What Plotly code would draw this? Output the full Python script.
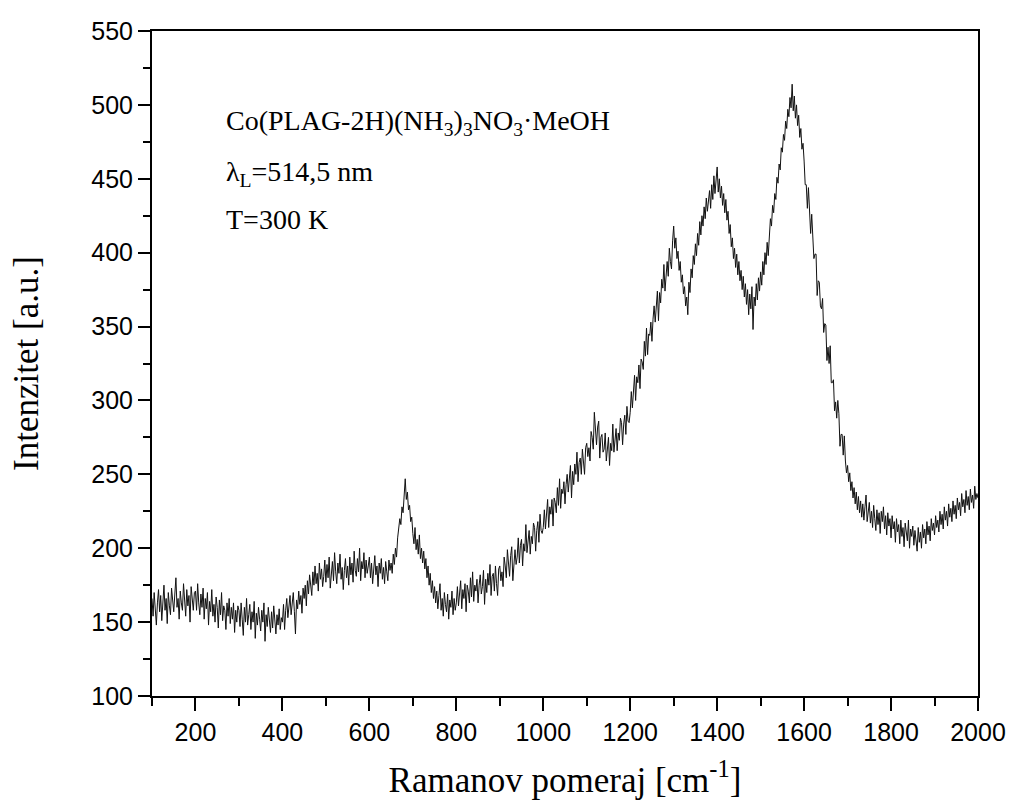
import plotly.graph_objects as go

# Raman shift axis (cm^-1): 2.5 cm^-1 step from 100 to 2000
shift_start = 100
shift_step = 2.5

# Measured intensity, 40 readings per 100 cm^-1
intensity = [
    # 100-197.5
    166, 154, 170, 159, 148, 163, 172, 157, 168, 151,
    162, 175, 158, 166, 149, 170, 161, 155, 173, 164,
    157, 169, 180, 160, 166, 152, 171, 163, 158, 176,
    165, 154, 172, 161, 168, 150, 174, 162, 158, 170,
    # 200-297.5
    171, 158, 176, 163, 155, 169, 160, 173, 152, 166,
    159, 170, 148, 164, 157, 172, 154, 162, 150, 167,
    160, 146, 165, 155, 170, 151, 161, 158, 145, 163,
    154, 166, 149, 160, 152, 163, 143, 158, 150, 161,
    # 300-397.5
    158, 147, 163, 152, 141, 160, 150, 166, 148, 155,
    162, 145, 157, 150, 164, 139, 156, 148, 160, 152,
    144, 158, 150, 163, 137, 155, 147, 160, 149, 143,
    157, 146, 161, 150, 142, 155, 148, 159, 145, 153,
    # 400-497.5
    150, 162, 145, 158, 166, 153, 160, 168, 155, 163,
    170, 157, 142, 165, 159, 171, 162, 168, 156, 173,
    166, 175, 161, 178, 169, 182, 172, 168, 184, 175,
    188, 176, 183, 171, 190, 179, 186, 174, 181, 192,
    # 500-597.5
    177, 189, 180, 194, 173, 186, 191, 178, 197, 184,
    176, 190, 183, 196, 179, 187, 172, 185, 193, 180,
    188, 175, 194, 182, 190, 177, 198, 185, 181, 193,
    184, 200, 178, 191, 186, 197, 180, 192, 183, 188,
    # 600-697.5
    194, 180, 190, 176, 185, 195, 182, 188, 174, 190,
    183, 193, 179, 187, 176, 191, 184, 178, 192, 185,
    190, 183, 196, 189, 200, 194, 207, 212, 220, 216,
    228, 224, 236, 247, 233, 238, 226, 229, 218, 221,
    # 700-797.5
    210, 203, 214, 199, 206, 196, 209, 193, 200, 190,
    198, 186, 193, 180, 188, 175, 183, 170, 178, 166,
    174, 163, 171, 159, 168, 176, 158, 166, 154, 170,
    162, 157, 169, 152, 165, 160, 171, 155, 166, 158,
    # 800-897.5
    163, 174, 161, 169, 178, 159, 172, 166, 176, 157,
    175, 171, 163, 180, 167, 184, 164, 175, 171, 179,
    163, 175, 182, 169, 174, 185, 162, 179, 170, 183,
    175, 189, 168, 181, 183, 171, 188, 176, 168, 186,
    # 900-997.5
    188, 178, 184, 174, 194, 188, 180, 199, 186, 181,
    195, 201, 178, 194, 199, 189, 194, 207, 190, 202,
    206, 188, 203, 198, 216, 197, 204, 212, 196, 208,
    203, 217, 214, 198, 212, 218, 204, 223, 212, 210,
    # 1000-1097.5
    214, 226, 213, 222, 233, 214, 228, 223, 233, 215,
    234, 231, 224, 241, 229, 247, 227, 240, 237, 245,
    230, 243, 250, 238, 245, 256, 234, 252, 243, 257,
    250, 265, 245, 258, 261, 250, 267, 257, 250, 268,
    # 1100-1197.5
    271, 262, 268, 259, 279, 275, 267, 292, 276, 270,
    282, 286, 261, 275, 277, 265, 267, 278, 259, 270,
    275, 256, 271, 266, 284, 265, 272, 281, 266, 278,
    273, 288, 285, 270, 284, 290, 277, 296, 286, 285,
    # 1200-1297.5
    292, 306, 295, 305, 317, 300, 316, 312, 324, 308,
    328, 326, 321, 340, 330, 349, 331, 345, 344, 353,
    340, 355, 364, 353, 361, 374, 354, 373, 366, 382,
    376, 392, 374, 389, 394, 384, 403, 394, 389, 408,
    # 1300-1397.5
    418, 403, 410, 396, 401, 388, 394, 380, 385, 372,
    377, 364, 370, 358, 380, 373, 389, 383, 398, 392,
    406, 398, 413, 405, 421, 412, 425, 418, 431, 423,
    437, 428, 434, 442, 430, 446, 436, 452, 440, 447,
    # 1400-1497.5
    458, 441, 450, 437, 445, 432, 440, 427, 436, 422,
    428, 413, 419, 404, 410, 396, 403, 390, 399, 385,
    394, 381, 388, 375, 384, 370, 379, 365, 375, 358,
    372, 362, 377, 348, 370, 364, 379, 368, 383, 374,
    # 1500-1597.5
    387, 378, 394, 385, 400, 392, 407, 398, 416, 423,
    418, 432, 427, 440, 436, 451, 447, 460, 456, 471,
    468, 480, 476, 489, 484, 497, 492, 505, 498, 514,
    496, 506, 491, 500, 486, 493, 478, 484, 470, 474,
    # 1600-1697.5
    462, 446, 446, 430, 444, 428, 413, 426, 407, 396,
    399, 399, 371, 381, 380, 364, 362, 369, 346, 352,
    351, 327, 336, 325, 337, 312, 312, 314, 293, 299,
    288, 300, 291, 269, 277, 277, 263, 276, 259, 251,
    # 1700-1797.5
    256, 245, 251, 239, 245, 234, 241, 230, 238, 226,
    235, 224, 232, 221, 230, 219, 228, 236, 218, 227,
    231, 217, 225, 214, 229, 220, 212, 226, 216, 224,
    210, 225, 218, 228, 213, 222, 209, 224, 215, 220,
    # 1800-1897.5
    207, 222, 213, 218, 204, 220, 211, 216, 203, 219,
    208, 214, 201, 217, 210, 205, 219, 200, 213, 208,
    215, 202, 212, 206, 198, 214, 204, 211, 200, 216,
    207, 213, 203, 218, 209, 215, 205, 220, 212, 217,
    # 1900-2000
    209, 222, 214, 219, 211, 225, 216, 223, 213, 228,
    219, 225, 215, 230, 221, 227, 218, 232, 223, 229,
    220, 234, 226, 231, 222, 237, 228, 233, 224, 239,
    229, 235, 226, 240, 231, 236, 227, 242, 233, 237,
    234,
]

raman_shift = [shift_start + shift_step * i for i in range(len(intensity))]

x_ticks = [200, 400, 600, 800, 1000, 1200, 1400, 1600, 1800, 2000]
y_ticks = [100, 150, 200, 250, 300, 350, 400, 450, 500, 550]

sample_lines = [
    "Co(PLAG-2H)(NH<sub>3</sub>)<sub>3</sub>NO<sub>3</sub>·MeOH",
    "λ<sub>L</sub>=514,5 nm",
    "T=300 K",
]

serif = "Liberation Serif, Times New Roman, serif"
sans = "Liberation Sans, Arial, sans-serif"

fig = go.Figure()
fig.add_trace(go.Scatter(
    x=raman_shift, y=intensity, mode="lines",
    line=dict(color="#111111", width=1),
    showlegend=False, hoverinfo="skip",
))

axis_common = dict(
    showline=True, linecolor="black", linewidth=2, mirror=True,
    ticks="outside", tickwidth=2, tickcolor="black",
    showgrid=False, zeroline=False, automargin=False,
    tickfont=dict(family=sans, size=25, color="black"),
)

fig.update_xaxes(
    range=[100, 2000], tickvals=x_ticks, ticklen=13,
    minor=dict(dtick=100, tick0=100, ticks="outside", ticklen=8, tickwidth=2, tickcolor="black", showgrid=False),
    title=dict(text="Ramanov pomeraj [cm<sup>-1</sup>]", font=dict(family=serif, size=35, color="black"), standoff=22),
    **axis_common,
)
fig.update_yaxes(
    range=[100, 550], tickvals=y_ticks, ticklen=12,
    minor=dict(dtick=25, tick0=100, ticks="outside", ticklen=7, tickwidth=2, tickcolor="black", showgrid=False),
    title=dict(text="Intenzitet [a.u.]", font=dict(family=serif, size=35, color="black"), standoff=42),
    **axis_common,
)

line_y = [0.862, 0.786, 0.717]
for txt, yy in zip(sample_lines, line_y):
    fig.add_annotation(
        xref="paper", yref="paper", x=0.087, y=yy,
        xanchor="left", yanchor="middle", showarrow=False, align="left",
        text=txt, font=dict(family=serif, size=28, color="black"),
    )

fig.update_layout(
    width=1011, height=805,
    margin=dict(l=152, r=33, t=31, b=109),
    paper_bgcolor="white", plot_bgcolor="white",
)

fig.write_html("out.html")
